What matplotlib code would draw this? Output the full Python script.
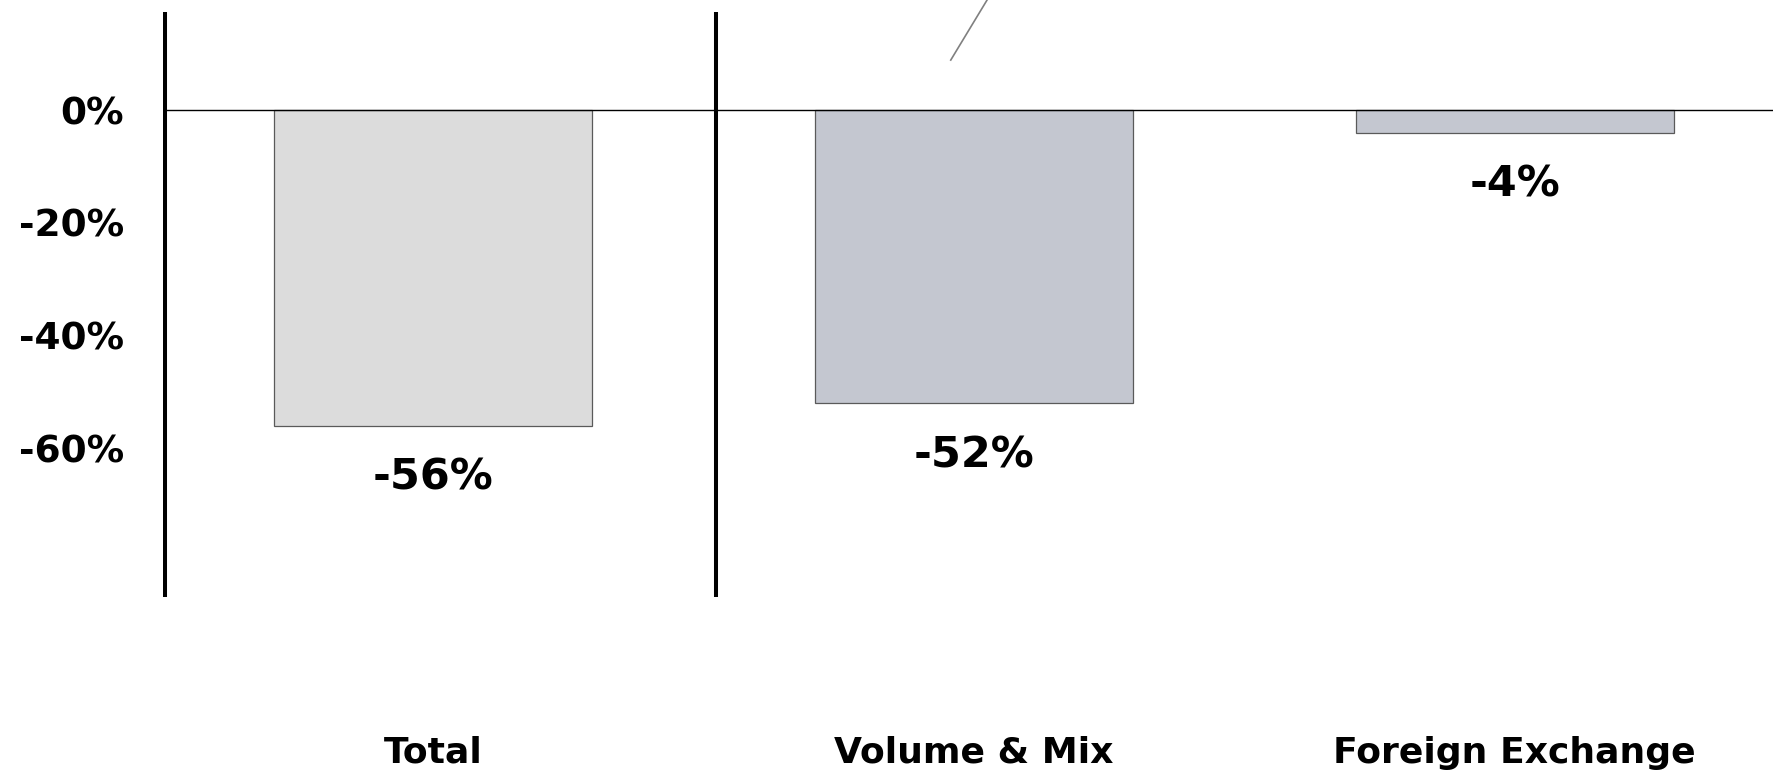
import matplotlib
matplotlib.use("Agg")
import matplotlib.pyplot as plt

categories = ["Total", "Volume & Mix", "Foreign Exchange"]
values = [-56, -52, -4]
value_labels = ["-56%", "-52%", "-4%"]
yticks = [0, -20, -40, -60]
ytick_labels = ["0%", "-20%", "-40%", "-60%"]
bar_colors = ["#DCDCDC", "#C4C7D0", "#C4C7D0"]

plt.rcParams['font.family'] = ['DejaVu Sans']

fig = plt.figure(figsize=(17.73, 7.73), dpi=100)
ax = fig.add_axes([163/1773, 1 - 597/773, 1622/1773, 585/773])

x = list(range(len(categories)))
ax.bar(x, values, width=0.588, color=bar_colors, edgecolor="#5a5a5a", linewidth=0.9, zorder=2)

ax.set_xlim(-0.5, 2.5)
ax.set_ylim(-86.4, 17.4)

# zero line
ax.axhline(0, color="black", linewidth=1.0, zorder=3)
# vertical separators
for xv in (-0.497, 0.522):
    ax.axvline(xv, color="black", linewidth=2.9, zorder=3)

for s in ax.spines.values():
    s.set_visible(False)

ax.set_yticks(yticks)
ax.set_yticklabels(ytick_labels, fontsize=27, fontweight="bold")
ax.tick_params(axis="y", length=0, pad=28)

ax.set_xticks(x)
ax.set_xticklabels(categories, fontsize=26, fontweight="bold")
ax.tick_params(axis="x", length=0, pad=100)

for xi, v, lab in zip(x, values, value_labels):
    ax.annotate(lab, (xi, v), xytext=(0, -37.5), textcoords="offset points",
                ha="center", va="center", fontsize=31, fontweight="bold")

# leader line of a callout cut off at the top
ax.plot([0.957, 1.024], [8.87, 19.5], color="#808080", linewidth=1.2, clip_on=False)

fig.savefig("out.png", dpi=100)
